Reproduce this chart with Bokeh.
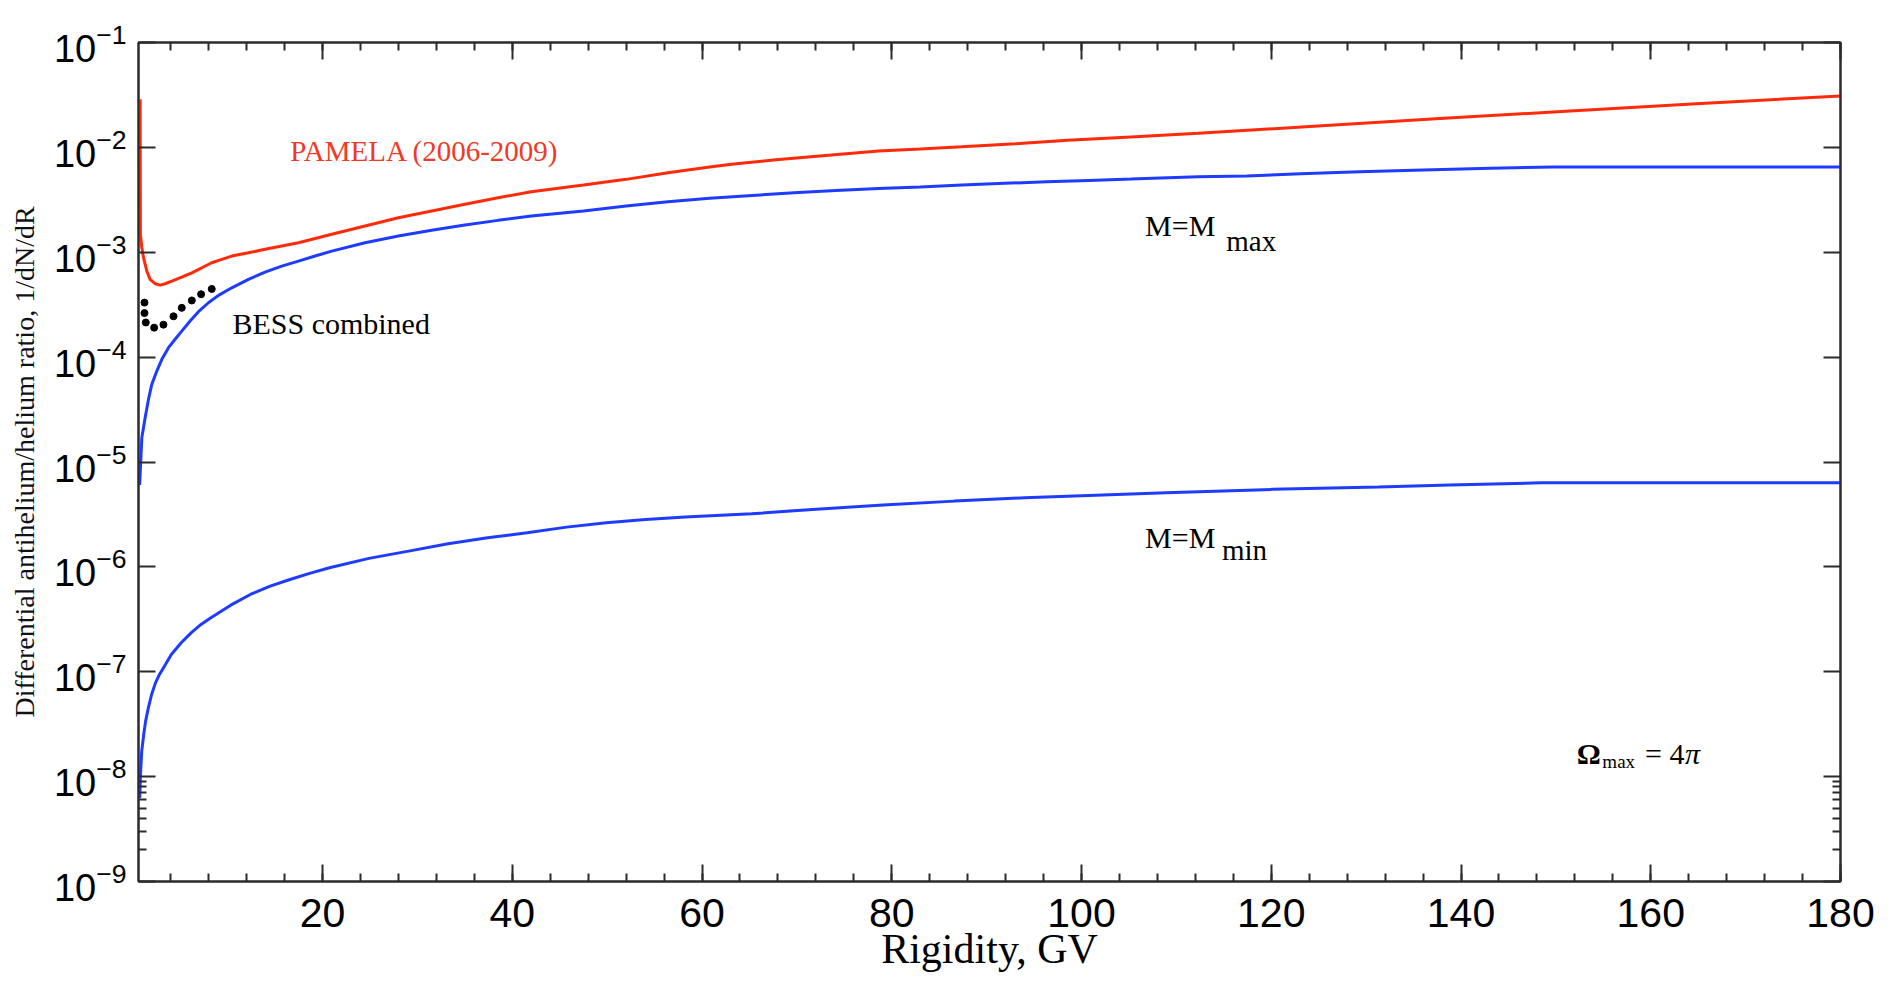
from bokeh.plotting import figure
from bokeh.models import (Range1d, LinearAxis, LogAxis, FixedTicker, SingleIntervalTicker,
                          LogTickFormatter, Label, CustomJSTickFormatter)
from bokeh.embed import file_html
from bokeh.resources import INLINE

# ---------------- data ----------------
pamela_rigidity = [0.77, 0.80, 0.95, 1.13, 1.48, 1.82, 2.35, 2.88, 3.40, 4.11, 5.16, 6.22, 7.27,
                   8.32, 9.38, 10.43, 12.19, 13.94, 17.46, 20.97, 24.48, 27.99, 31.5, 35.0, 38.5,
                   42.0, 47.5, 52.0, 56.4, 60.8, 63.1, 67.5, 72.4, 78.6, 83.0, 87.4, 93.0, 98.5,
                   105.2, 112.3, 124.9, 138.2, 151.5, 164.8, 180.0]
pamela_ratio = [2.87e-2, 1.48e-3, 1.104e-3, 8.87e-4, 6.62e-4, 5.51e-4, 5.01e-4, 4.86e-4, 5.01e-4,
                5.31e-4, 5.79e-4, 6.37e-4, 7.11e-4, 7.94e-4, 8.55e-4, 9.20e-4, 9.89e-4, 1.067e-3,
                1.233e-3, 1.483e-3, 1.778e-3, 2.133e-3, 2.472e-3, 2.864e-3, 3.311e-3, 3.776e-3,
                4.375e-3, 4.955e-3, 5.74e-3, 6.50e-3, 6.89e-3, 7.57e-3, 8.28e-3, 9.23e-3, 9.64e-3,
                1.014e-2, 1.084e-2, 1.167e-2, 1.256e-2, 1.361e-2, 1.600e-2, 1.892e-2, 2.223e-2,
                2.606e-2, 3.090e-2]

mmax_rigidity = [0.72, 0.95, 1.30, 1.65, 2.00, 2.53, 3.06, 3.76, 4.46, 5.16, 6.04, 6.92, 7.97,
                 9.03, 10.43, 12.19, 13.94, 15.70, 17.46, 19.21, 20.97, 24.48, 27.99, 31.5, 35.0,
                 38.5, 42.0, 47.5, 52.0, 56.4, 60.8, 65.3, 69.7, 74.1, 78.6, 83.0, 87.4, 91.9,
                 96.3, 100.8, 105.2, 112.3, 117.4, 123.1, 129.3, 136.0, 143.1, 149.7, 180.0]
mmax_ratio = [6.03e-6, 1.70e-5, 2.64e-5, 3.95e-5, 5.50e-5, 7.36e-5, 9.53e-5, 1.23e-4, 1.48e-4,
              1.77e-4, 2.21e-4, 2.71e-4, 3.30e-4, 3.88e-4, 4.58e-4, 5.51e-4, 6.47e-4, 7.38e-4,
              8.24e-4, 9.20e-4, 1.026e-3, 1.233e-3, 1.426e-3, 1.618e-3, 1.816e-3, 2.014e-3,
              2.213e-3, 2.472e-3, 2.761e-3, 3.034e-3, 3.266e-3, 3.483e-3, 3.698e-3, 3.890e-3,
              4.064e-3, 4.188e-3, 4.375e-3, 4.539e-3, 4.699e-3, 4.842e-3, 4.989e-3, 5.248e-3,
              5.33e-3, 5.61e-3, 5.86e-3, 6.08e-3, 6.31e-3, 6.50e-3, 6.50e-3]

mmin_rigidity = [0.73, 0.81, 0.94, 1.15, 1.35, 1.64, 1.98, 2.39, 2.81, 3.44, 4.06, 5.10, 6.14,
                 7.19, 8.23, 10.32, 12.39, 14.48, 16.56, 18.64, 20.73, 24.89, 29.06, 33.23, 37.40,
                 41.56, 45.73, 49.90, 54.06, 58.23, 65.23, 71.6, 79.1, 86.6, 94.0, 101.5, 108.9,
                 120.1, 131.3, 138.8, 148.5, 180.0]
mmin_ratio = [6.27e-9, 1.047e-8, 1.750e-8, 2.52e-8, 3.38e-8, 4.53e-8, 6.07e-8, 7.83e-8, 9.42e-8,
              1.175e-7, 1.462e-7, 1.888e-7, 2.350e-7, 2.825e-7, 3.266e-7, 4.315e-7, 5.458e-7,
              6.546e-7, 7.586e-7, 8.670e-7, 9.795e-7, 1.205e-6, 1.413e-6, 1.660e-6, 1.892e-6,
              2.113e-6, 2.393e-6, 2.630e-6, 2.831e-6, 2.985e-6, 3.206e-6, 3.532e-6, 3.882e-6,
              4.236e-6, 4.560e-6, 4.831e-6, 5.082e-6, 5.483e-6, 5.768e-6, 6.026e-6, 6.339e-6,
              6.339e-6]

bess_rigidity = [1.23, 1.23, 1.37, 2.25, 3.23, 4.29, 5.16, 6.22, 7.2, 8.32]
bess_ratio = [3.31e-4, 2.63e-4, 2.14e-4, 1.91e-4, 2.04e-4, 2.45e-4, 2.95e-4, 3.47e-4, 3.98e-4, 4.47e-4]

y_decades = [1e-9, 1e-8, 1e-7, 1e-6, 1e-5, 1e-4, 1e-3, 1e-2, 1e-1]
y_minor = [2e-9, 3e-9, 4e-9, 5e-9, 6e-9, 7e-9, 8e-9, 9e-9]

x_title = "Rigidity, GV"
y_title = "Differential antihelium/helium ratio, 1/dN/dR"

# ---------------- figure ----------------
RED = "#ff2a0a"
BLUE = "#1e3cff"
AX = "#2b2b2b"
SERIF = "Liberation Serif"

p = figure(width=1894, height=985, output_backend="svg", toolbar_location=None,
           x_range=Range1d(0.6, 180), y_range=Range1d(1e-9, 1e-1), y_axis_type="log",
           min_border_left=138, min_border_right=54, min_border_top=42, min_border_bottom=104)
p.xgrid.visible = False
p.ygrid.visible = False
p.outline_line_color = AX
p.outline_line_width = 2
p.background_fill_color = "white"
p.border_fill_color = "white"

xticker = SingleIntervalTicker(interval=20, num_minor_ticks=5)
yticker = FixedTicker(ticks=y_decades, minor_ticks=y_minor)

def style_axis(ax):
    ax.axis_line_color = AX
    ax.axis_line_width = 2
    ax.major_tick_line_color = AX
    ax.minor_tick_line_color = AX
    ax.major_tick_line_width = 2
    ax.minor_tick_line_width = 2
    ax.major_tick_in = 17
    ax.major_tick_out = 0
    ax.minor_tick_in = 8
    ax.minor_tick_out = 0

xa = p.xaxis[0]
xa.ticker = xticker
style_axis(xa)
xa.major_label_text_font = "Liberation Sans"
xa.major_label_text_font_size = "41px"
xa.major_label_text_color = "black"
xa.major_label_standoff = 17
xa.axis_label = x_title
xa.axis_label_text_font = SERIF
xa.axis_label_text_font_size = "42px"
xa.axis_label_text_font_style = "normal"
xa.axis_label_text_color = "black"
xa.axis_label_standoff = -4

ya = p.yaxis[0]
ya.ticker = yticker
ya.formatter = LogTickFormatter()
style_axis(ya)
ya.major_label_text_font = "Liberation Sans"
ya.major_label_text_font_size = "38px"
ya.major_label_text_color = "black"
ya.major_label_standoff = 12
ya.axis_label = y_title
ya.axis_label_text_font = SERIF
ya.axis_label_text_font_size = "28px"
ya.axis_label_text_font_style = "normal"
ya.axis_label_text_color = "#101018"
ya.axis_label_standoff = 11

blank = CustomJSTickFormatter(code="return ''")
top = LinearAxis(ticker=xticker, formatter=blank, major_label_text_font_size="0px")
style_axis(top)
p.add_layout(top, "above")
right = LogAxis(ticker=yticker, formatter=blank, major_label_text_font_size="0px")
style_axis(right)
p.add_layout(right, "right")

# ---------------- curves ----------------
p.line(pamela_rigidity, pamela_ratio, line_color=RED, line_width=3)
p.line(mmax_rigidity, mmax_ratio, line_color=BLUE, line_width=3)
p.line(mmin_rigidity, mmin_ratio, line_color=BLUE, line_width=3)
p.scatter(bess_rigidity, bess_ratio, size=7, color="black")

# ---------------- annotations ----------------
def lab(x, y, text, size, color="black", style="normal"):
    p.add_layout(Label(x=x, y=y, text=text, text_font=SERIF, text_font_size=size,
                       text_color=color, text_font_style=style,
                       text_align="left", text_baseline="alphabetic"))

lab(16.6, 9.33e-3, "PAMELA (2006-2009)", "29px", color="#ee3a26")
lab(10.5, 2.075e-4, "BESS combined", "30px")
lab(106.7, 1.796e-3, "M=M", "30px")
lab(115.25, 1.292e-3, "max", "29px")
lab(106.7, 1.914e-6, "M=M", "30px")
lab(114.8, 1.450e-6, "min", "29px")
lab(152.2, 1.644e-8, "\u03a9", "30px", style="bold")
lab(154.9, 1.396e-8, "max", "19px")
lab(159.4, 1.644e-8, "= 4", "30px")
lab(163.6, 1.644e-8, "\u03c0", "30px", style="italic")

open("out.html", "w").write(file_html(p, INLINE))
